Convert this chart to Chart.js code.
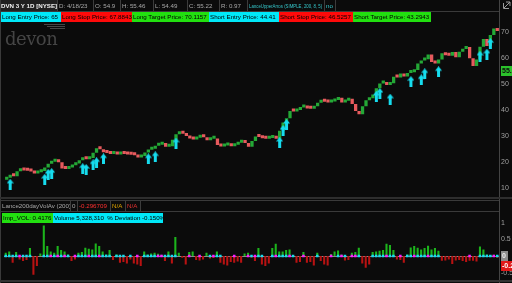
<!DOCTYPE html>
<html>
<head>
<meta charset="utf-8">
<script src="https://cdn.jsdelivr.net/npm/chart.js@4/dist/chart.umd.min.js"></script>
<style>
html, body { margin: 0; padding: 0; width: 512px; height: 283px; overflow: hidden; background: #0b0b0b; }
body { position: relative; font-family: "Liberation Sans", Arial, sans-serif; }
canvas { position: absolute; left: 0; }
.c { position: absolute; white-space: nowrap; overflow: hidden; font-size: 6.2px; box-sizing: border-box; padding-left: 1px; }
.r1 { top: 0; height: 11px; line-height: 11px; color: #a8a8a8; border-right: 1px solid #3c3c3c; }
.r2 { top: 12px; height: 10px; line-height: 10px; color: #000; }
.lh { top: 201px; height: 10px; line-height: 10px; color: #a8a8a8; border-right: 1px solid #3c3c3c; }
.ln { position: absolute; background: #3a3a3a; }
.cy { background: #00e8f8; } .rd { background: #ff0a0a; } .gr { background: #22e010; }
.sq { display: inline-block; transform: scaleX(0.7); transform-origin: 0 50%; }
#logo { position: absolute; left: 5px; top: 28px; font-family: "DejaVu Serif", serif; font-size: 18px; color: #454545; letter-spacing: -0.5px; }
</style>
</head>
<body>
<canvas id="price" width="512" height="198" style="top:0"></canvas>
<canvas id="dev" width="512" height="85" style="top:198px"></canvas>

<div id="logo">devon</div>
<div class="ln" style="left:44px;top:24px;width:21px;height:1px;background:#474747"></div>
<div class="ln" style="left:47px;top:26px;width:18px;height:1px;background:#474747"></div>
<div class="ln" style="left:50px;top:28px;width:15px;height:1px;background:#474747"></div>

<!-- header row -->
<div class="c r1" style="left:0;width:58px;background:#202020;color:#f0f0f0;font-weight:bold">DVN 3 Y 1D [NYSE]</div>
<div class="c r1" style="left:58px;width:36px">D: 4/18/23</div>
<div class="c r1" style="left:94px;width:27px">O: 54.9</div>
<div class="c r1" style="left:121px;width:33px">H: 55.46</div>
<div class="c r1" style="left:154px;width:34px">L: 54.49</div>
<div class="c r1" style="left:188px;width:32px">C: 55.22</div>
<div class="c r1" style="left:220px;width:28px">R: 0.97</div>
<div class="c r1" style="left:248px;width:77px;color:#36c8cc"><span class="sq">LanceUpperArros (SIMPLE, 200, 8, 5)</span></div>
<div class="c r1" style="left:325px;width:11px;color:#36c8cc">no</div>
<div class="ln" style="left:0;top:11px;width:499px;height:1px"></div>
<svg style="position:absolute;left:503px;top:1px" width="8" height="8"><path d="M1 7 L7 1 M3 1 H7 V5" stroke="#9a9a9a" fill="none" stroke-width="1"/><path d="M0.5 2 V7.5 H6" stroke="#9a9a9a" fill="none" stroke-width="1"/></svg>

<!-- order boxes -->
<div class="c r2 cy" style="left:1px;width:60px">Long Entry Price: 65</div>
<div class="c r2 rd" style="left:61px;width:71px">Long Stop Price: 67.8843</div>
<div class="c r2 gr" style="left:132px;width:77px">Long Target Price: 70.1157</div>
<div class="c r2 cy" style="left:209px;width:70px">Short Entry Price: 44.41</div>
<div class="c r2 rd" style="left:279px;width:74px">Short Stop Price: 46.5257</div>
<div class="c r2 gr" style="left:353px;width:78px">Short Target Price: 43.2943</div>

<!-- frame -->
<div class="ln" style="left:0;top:0;width:1px;height:283px"></div>
<div class="ln" style="left:499px;top:0;width:1px;height:283px;background:#444"></div>
<div class="ln" style="left:0;top:197px;width:512px;height:2px;background:#2e2e2e"></div>
<div class="ln" style="left:0;top:200px;width:499px;height:1px"></div>
<div class="ln" style="left:0;top:211px;width:499px;height:1px"></div>
<div class="ln" style="left:0;top:280px;width:512px;height:2px;background:#333"></div>

<!-- lower header -->
<div class="c lh" style="left:1px;width:70px">Lance200dayVolAv (200)</div>
<div class="c lh" style="left:71px;width:7px">0</div>
<div class="c lh" style="left:78px;width:33px;color:#ff3030">-0.296709</div>
<div class="c lh" style="left:111px;width:15px;color:#d8a000">N/A</div>
<div class="c lh" style="left:126px;width:15px;color:#e03030">N/A</div>
<div class="c r2 gr" style="left:2px;top:213px;width:51px">Imp_VOL: 0.4176</div>
<div class="c r2 cy" style="left:53px;top:213px;width:110px">Volume 5,328,310&nbsp; % Deviation -0.150%</div>

<script>
// price path, roughly one bar per 3.5 px of the 3Y daily chart
const closes = [
  13.8, 15.0, 14.4, 16.3, 16.8, 16.6, 16.5, 16.2, 15.4, 15.9,
  16.4, 17.8, 19.2, 20.0, 20.6, 19.8, 17.4, 17.2, 17.8, 18.6,
  19.3, 20.6, 21.5, 21.0, 21.4, 23.5, 25.2, 24.8, 23.7, 23.4,
  23.0, 23.2, 22.8, 23.3, 23.0, 22.8, 22.7, 22.5, 21.6, 22.2,
  23.6, 24.6, 25.0, 26.2, 26.6, 27.2, 25.8, 26.0, 28.5, 30.6,
  31.4, 30.8, 30.0, 29.0, 28.6, 29.3, 29.8, 29.5, 28.3, 28.9,
  29.0, 26.5, 25.9, 26.3, 26.4, 26.0, 26.6, 27.3, 28.2, 27.2,
  25.8, 28.0, 29.8, 29.6, 29.1, 28.9, 29.2, 29.5, 28.9, 32.0,
  35.2, 36.8, 39.6, 39.4, 40.0, 41.0, 41.0, 40.6, 40.5, 41.5,
  42.8, 43.6, 43.2, 42.9, 43.3, 43.9, 44.7, 42.9, 43.6, 44.4,
  42.3, 39.6, 38.4, 41.5, 43.8, 44.6, 46.0, 48.4, 50.3, 50.5,
  49.7, 50.4, 52.9, 52.6, 54.1, 53.0, 54.3, 54.6, 55.5, 58.0,
  59.2, 59.6, 61.5, 58.6, 58.0, 59.5, 62.0, 61.2, 61.0, 62.4,
  60.4, 62.5, 63.6, 64.4, 60.0, 57.0, 59.5, 64.5, 67.5, 64.8,
  69.0, 71.5, 70.6
];
const firstOpen = 13.0;

// signal arrows (bar index, level)
const arrowBars = [1, 11, 12, 13, 22, 23, 25, 26, 28, 41, 43, 49, 79, 80, 81, 107, 108, 111, 117, 120, 121, 125, 137, 139, 140];
const arrowLevels = [11.3, 13.2, 15.1, 15.4, 17.3, 17.0, 18.8, 19.6, 21.1, 21.1, 21.9, 27.2, 27.5, 32.1, 34.4, 45.3, 46.4, 44.2, 51.0, 51.7, 54.0, 54.8, 60.8, 61.6, 65.7];

// volume deviation study
const devs = [
  0.1, 0.14, -0.2, 0.12, -0.1, -0.15, -0.12, 0.24, -0.56, -0.3,
  0.08, 0.92, 0.3, 0.14, 0.1, 0.3, 0.18, 0.14, 0.05, -0.15,
  -0.1, 0.1, 0.12, 0.25, 0.22, 0.2, 0.38, 0.3, 0.14, 0.05,
  0.18, -0.12, 0.05, -0.2, -0.18, -0.22, -0.1, -0.22, -0.25, -0.3,
  0.14, 0.05, 0.08, 0.1, 0.07, 0.04, -0.15, 0.14, -0.22, 0.57,
  0.1, -0.05, -0.25, 0.12, 0.14, -0.12, -0.13, -0.1, 0.1, -0.07,
  -0.06, 0.14, -0.2, -0.25, -0.28, -0.18, -0.2, -0.16, -0.2, 0.08,
  0.1, -0.05, -0.15, 0.24, -0.25, -0.3, -0.22, 0.24, 0.37, 0.14,
  0.14, 0.18, 0.2, 0.02, -0.2, -0.18, 0.12, -0.2, -0.18, -0.28,
  0.1, -0.15, -0.25, -0.28, 0.06, 0.14, 0.17, 0.05, -0.13, -0.12,
  0.1, 0.12, 0.25, -0.22, -0.35, -0.25, 0.12, 0.14, 0.16, 0.18,
  0.37, 0.33, 0.18, -0.1, -0.12, -0.2, 0.05, 0.26, 0.3, 0.25,
  0.2, 0.24, 0.31, 0.2, 0.24, 0.16, -0.14, -0.13, -0.1, -0.24,
  -0.13, -0.12, -0.15, -0.18, -0.14, -0.14, -0.16, 0.29, 0.2, 0.05,
  0.03, 0.04, -0.05
];
// 0 = none, 1 = cyan dot, 2 = magenta dot
const dotStates = [
  1, 1, 1, 1, 2, 1, 1, 1, 0, 0,
  0, 1, 1, 2, 1, 2, 1, 2, 1, 0,
  2, 1, 1, 1, 2, 1, 1, 2, 1, 1,
  1, 0, 1, 1, 1, 0, 1, 0, 2, 0,
  1, 1, 1, 1, 2, 2, 1, 1, 1, 1,
  0, 0, 0, 2, 0, 0, 2, 0, 0, 1,
  2, 1, 1, 0, 0, 0, 2, 0, 0, 0,
  2, 1, 2, 1, 1, 0, 0, 1, 2, 1,
  1, 1, 2, 1, 0, 0, 2, 0, 0, 0,
  1, 0, 0, 0, 2, 0, 1, 2, 1, 0,
  2, 2, 1, 0, 0, 0, 1, 1, 1, 1,
  2, 1, 1, 0, 2, 0, 1, 1, 2, 1,
  1, 1, 2, 1, 1, 1, 0, 0, 0, 0,
  0, 0, 0, 0, 2, 0, 0, 1, 1, 1,
  1, 2, 1
];

const priceTicks = [10, 20, 30, 40, 50, 60, 70];
const devTicks = [1, 0.5, -0.5];
const lastClose = 55.22;
const lastDev = -0.296709;
const zeroLevel = 0;

const UP = "#24a836", DOWN = "#e65a5d";
const CYAN = "#16dcee", MAGENTA = "#ff1cff";
const tickFont = { family: "Liberation Sans", size: 7 };

const barIndex = closes.map((_, i) => i);
const opens = [firstOpen].concat(closes.slice(0, -1));
const cut1 = (v) => (Math.trunc(v * 10) / 10).toFixed(1);

// arrow marker
const arrowImg = document.createElement("canvas");
arrowImg.width = 7; arrowImg.height = 11;
(function () {
    const c = arrowImg.getContext("2d");
    c.fillStyle = CYAN;
    c.beginPath();
    c.moveTo(3.5, 0); c.lineTo(7, 4.5); c.lineTo(5, 4.5); c.lineTo(5, 11);
    c.lineTo(2, 11); c.lineTo(2, 4.5); c.lineTo(0, 4.5);
    c.closePath(); c.fill();
})();

const badges = {
    id: "badges",
    beforeDatasetsDraw(chart, args, opts) {
        if (opts.zero === undefined) return;
        const y = chart.scales.y.getPixelForValue(opts.zero);
        const ctx = chart.ctx;
        ctx.save();
        ctx.fillStyle = "#8a8a8a";
        ctx.fillRect(chart.chartArea.left, Math.round(y), chart.chartArea.right - chart.chartArea.left, 1);
        ctx.restore();
    },
    afterDraw(chart, args, opts) {
        const ctx = chart.ctx;
        const x = chart.chartArea.right + 1;
        ctx.save();
        (opts.items || []).forEach((b) => {
            const y = Math.round(chart.scales.y.getPixelForValue(b.value));
            ctx.fillStyle = b.bg;
            ctx.fillRect(x + 1, y - 5, b.w, 10);
            ctx.fillStyle = b.fg;
            ctx.font = "bold 7px Liberation Sans";
            ctx.textBaseline = "middle";
            ctx.fillText(b.text, x + 2, y + 0.5);
        });
        ctx.restore();
    }
};

function rightAxis(min, max, ticks) {
    return {
        position: "right",
        min: min,
        max: max,
        afterBuildTicks: (s) => { s.ticks = ticks.map((v) => ({ value: v })); },
        afterFit: (s) => { s.width = 13; },
        grid: { display: false, drawTicks: false },
        border: { display: false },
        ticks: { color: "#a0a0a0", font: tickFont, padding: 2, callback: (v) => String(v) }
    };
}

new Chart(document.getElementById("price"), {
    type: "bar",
    data: {
        labels: barIndex,
        datasets: [
            {
                type: "scatter",
                data: arrowBars.map((b, i) => ({ x: b, y: arrowLevels[i] })),
                pointStyle: arrowImg,
                pointRadius: 4,
                order: 0
            },
            {
                data: closes.map((c, i) => [opens[i], c]),
                backgroundColor: closes.map((c, i) => (c >= opens[i] ? UP : DOWN)),
                barPercentage: 0.95,
                categoryPercentage: 1,
                minBarLength: 3,
                order: 1
            }
        ]
    },
    options: {
        responsive: false,
        animation: false,
        events: [],
        layout: { padding: { left: 1, right: 0, top: 11, bottom: 2 } },
        plugins: {
            legend: { display: false },
            tooltip: { enabled: false },
            badges: { items: [{ value: lastClose, text: cut1(lastClose), bg: "#2bc22b", fg: "#0b0b0b", w: 12 }] }
        },
        scales: {
            x: { display: false },
            y: rightAxis(8.37, 78.3, priceTicks)
        }
    },
    plugins: [badges]
});

const dotIdx = barIndex.filter((i) => dotStates[i] > 0);
new Chart(document.getElementById("dev"), {
    type: "bar",
    data: {
        labels: barIndex,
        datasets: [
            {
                type: "scatter",
                data: dotIdx.map((i) => ({ x: i, y: zeroLevel })),
                pointStyle: "rect",
                pointRadius: 1.8,
                borderWidth: 0,
                backgroundColor: dotIdx.map((i) => (dotStates[i] === 2 ? MAGENTA : CYAN)),
                order: 0
            },
            {
                data: devs,
                backgroundColor: devs.map((v) => (v >= 0 ? "#1cb41c" : "#b81212")),
                barPercentage: 0.6,
                categoryPercentage: 1,
                order: 1
            }
        ]
    },
    options: {
        responsive: false,
        animation: false,
        events: [],
        layout: { padding: { left: 1, right: 0, top: 13, bottom: 3 } },
        plugins: {
            legend: { display: false },
            tooltip: { enabled: false },
            badges: {
                zero: zeroLevel,
                items: [
                    { value: zeroLevel, text: String(zeroLevel), bg: "#8c8c8c", fg: "#f0f0f0", w: 7 },
                    { value: lastDev, text: cut1(lastDev), bg: "#e01818", fg: "#ffffff", w: 12 }
                ]
            }
        },
        scales: {
            x: { display: false },
            y: rightAxis(-0.62, 1.351, devTicks)
        }
    },
    plugins: [badges]
});
</script>
</body>
</html>
